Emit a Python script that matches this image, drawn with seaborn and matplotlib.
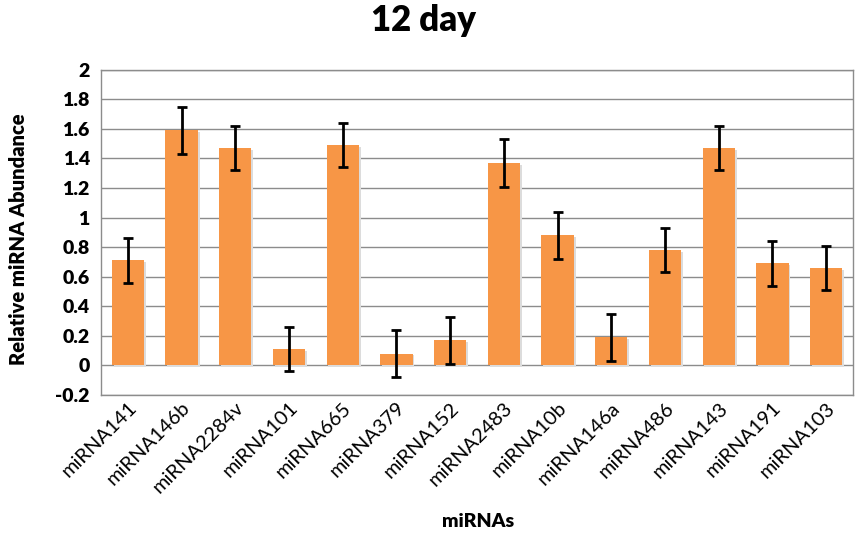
import matplotlib
matplotlib.use("Agg")
import matplotlib.pyplot as plt
import seaborn as sns
import pandas as pd
import numpy as np

categories = ["miRNA141", "miRNA146b", "miRNA2284v", "miRNA101", "miRNA665",
              "miRNA379", "miRNA152", "miRNA2483", "miRNA10b", "miRNA146a",
              "miRNA486", "miRNA143", "miRNA191", "miRNA103"]
values = [0.71, 1.59, 1.47, 0.11, 1.49, 0.08, 0.17, 1.37, 0.88, 0.19, 0.78, 1.47, 0.69, 0.66]
errors = [0.15, 0.16, 0.15, 0.15, 0.15, 0.16, 0.16, 0.16, 0.16, 0.16, 0.15, 0.15, 0.15, 0.15]
yticks = [-0.2, 0, 0.2, 0.4, 0.6, 0.8, 1, 1.2, 1.4, 1.6, 1.8, 2]
ytick_labels = ["-0.2", "0", "0.2", "0.4", "0.6", "0.8", "1", "1.2", "1.4", "1.6", "1.8", "2"]

df = pd.DataFrame({"miRNA": categories, "value": values, "err": errors})

sns.set_style("white")
plt.rcParams['font.family'] = ['Lato', 'DejaVu Sans']
for k in ["text.color", "axes.labelcolor", "xtick.color", "ytick.color"]:
    plt.rcParams[k] = "black"

fig = plt.figure(figsize=(8.58, 5.34), dpi=100)
ax = fig.add_axes([0.1177, 0.2603, 0.8765, 0.6092])

ax.set_ylim(-0.2, 2.0)
ax.set_xlim(-0.5, len(categories) - 0.5)
ax.set_yticks(yticks)
ax.yaxis.grid(True, color="#8c8c8c", linewidth=1.0)
ax.set_axisbelow(True)

# subtle shadow bars
xs = np.arange(len(categories))
ax.bar(xs + 0.035, df["value"], width=0.6, bottom=-0.012, color="#dcdcdc",
       linewidth=0, zorder=1.5)

sns.barplot(data=df, x="miRNA", y="value", color="#F79646", saturation=1,
            width=0.6, ax=ax, errorbar=None, linewidth=0, zorder=2)
ax.errorbar(xs, df["value"], yerr=df["err"], fmt="none", ecolor="black",
            elinewidth=2, capsize=3.8, capthick=2, zorder=3)

for s in ax.spines.values():
    s.set_color("#8c8c8c")
    s.set_linewidth(1.0)

ax.set_yticklabels(ytick_labels, fontsize=14, fontweight="heavy")
ax.set_xticks(xs)
ax.set_xticklabels(categories, rotation=45, ha="right", rotation_mode="anchor",
                   fontsize=14.5)
ax.tick_params(axis="both", length=0, pad=8)
ax.tick_params(axis="x", pad=3)

ax.set_ylabel("Relative miRNA Abundance", fontsize=14.5, fontweight="heavy", labelpad=16)
ax.yaxis.set_label_coords(-0.097, 0.48)
ax.set_xlabel("")
fig.text(0.557, 0.008, "miRNAs", ha="center", va="bottom", fontsize=14, fontweight="heavy")
fig.text(0.494, 0.962, "12 day", ha="center", va="center", fontsize=25, fontweight="heavy")

fig.savefig("out.png", dpi=100)
